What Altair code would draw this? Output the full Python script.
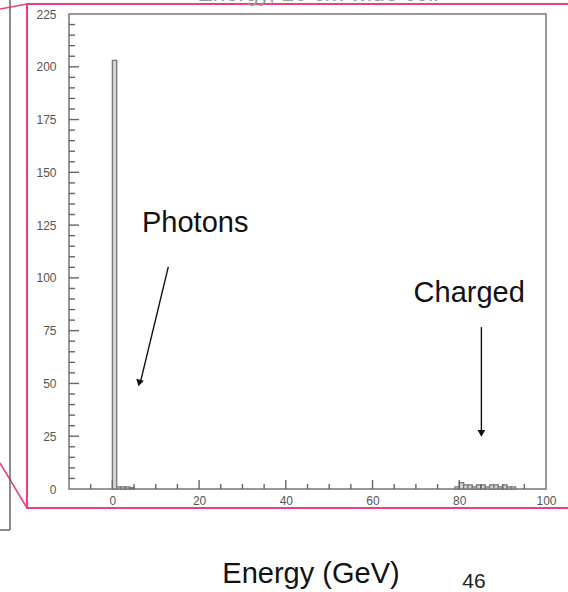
import altair as alt
import pandas as pd

# Histogram bins (GeV) and counts
bin_lo = [0, 1, 2, 3, 4, 79, 80, 81, 82, 83, 84, 85, 86, 87, 88, 89, 90, 91, 92]
bin_hi = [1, 2, 3, 4, 5, 80, 81, 82, 83, 84, 85, 86, 87, 88, 89, 90, 91, 92, 93]
counts = [203, 1, 1, 1, 0.6, 1, 3, 2, 2, 1, 2, 2, 1, 2, 2, 1, 2, 1, 1]

x_labels = [0, 20, 40, 60, 80, 100]
y_labels = [0, 25, 50, 75, 100, 125, 150, 175, 200, 225]
x_major = [0, 20, 40, 60, 80]
x_minor = [v for v in range(-5, 100, 5) if v % 20 != 0]
y_major = [25, 50, 75, 100, 125, 150, 175, 200]
y_minor = [v for v in range(5, 225, 5) if v % 25 != 0]

annot_text = ["Photons", "Charged"]
annot_x = [19.1, 82.3]
annot_y = [121.7, 88.6]

arrow_x = [12.9, 85.1]
arrow_y = [105.2, 76.7]
arrow_x2 = [6.4, 85.1]
arrow_y2 = [50.0, 27.0]
head_x = [6.2, 85.1]
head_y = [50.2, 26.3]
head_angle = [14, 0]

W, H = 477, 475
PL, PT = 69, 14
FONT = "Liberation Sans"

xs = alt.Scale(domain=[-10, 100], nice=False, zero=False)
ys = alt.Scale(domain=[0, 225], nice=False, zero=False)

hist = pd.DataFrame({"lo": bin_lo, "hi": bin_hi, "count": counts, "base": [0] * len(counts)})

bars = alt.Chart(hist).mark_bar(fill="#d4d4d4", stroke="#777", strokeWidth=1.3).encode(
    x=alt.X("lo:Q", scale=xs,
            axis=alt.Axis(values=x_labels, title=None, ticks=False, tickSize=0, domain=False,
                          grid=False, labelPadding=6, labelFont=FONT, labelFontSize=12,
                          labelColor="#555", labelFlush=False)),
    x2="hi:Q",
    y=alt.Y("count:Q", scale=ys,
            axis=alt.Axis(values=y_labels, title=None, ticks=False, tickSize=0, domain=False,
                          grid=False, labelPadding=13, labelFont=FONT, labelFontSize=12,
                          labelColor="#555", labelFlush=False)),
    y2="base:Q",
)

tick_color = "#666"
ytm = alt.Chart(pd.DataFrame({"v": y_major})).mark_rule(color=tick_color, strokeWidth=1.4).encode(
    y=alt.Y("v:Q", scale=ys), x=alt.value(0), x2=alt.value(10))
ytn = alt.Chart(pd.DataFrame({"v": y_minor})).mark_rule(color=tick_color, strokeWidth=1.4).encode(
    y=alt.Y("v:Q", scale=ys), x=alt.value(0), x2=alt.value(6))
xtm = alt.Chart(pd.DataFrame({"v": x_major})).mark_rule(color=tick_color, strokeWidth=1.4).encode(
    x=alt.X("v:Q", scale=xs), y=alt.value(H), y2=alt.value(H - 9))
xtn = alt.Chart(pd.DataFrame({"v": x_minor})).mark_rule(color=tick_color, strokeWidth=1.4).encode(
    x=alt.X("v:Q", scale=xs), y=alt.value(H), y2=alt.value(H - 5))

ann = pd.DataFrame({"t": annot_text, "x": annot_x, "y": annot_y})
ann_text = alt.Chart(ann).mark_text(font=FONT, fontSize=29, color="#111", baseline="alphabetic",
                                    align="center").encode(
    x=alt.X("x:Q", scale=xs), y=alt.Y("y:Q", scale=ys), text="t:N")

arr = pd.DataFrame({"x": arrow_x, "y": arrow_y, "x2": arrow_x2, "y2": arrow_y2})
arrows = alt.Chart(arr).mark_rule(color="#111", strokeWidth=1.4).encode(
    x=alt.X("x:Q", scale=xs), y=alt.Y("y:Q", scale=ys), x2="x2:Q", y2="y2:Q")
heads = alt.Chart(pd.DataFrame({"x": head_x, "y": head_y, "a": head_angle})).mark_point(
    shape="triangle-down", filled=True, color="#111", size=60, opacity=1).encode(
    x=alt.X("x:Q", scale=xs), y=alt.Y("y:Q", scale=ys), angle=alt.Angle("a:Q", scale=None))


def px(v):
    return alt.value(v - PL)


def py(v):
    return alt.value(v - PT)


one = pd.DataFrame({"k": [0]})
pink = "#f23c82"
pink_box = alt.Chart(one).mark_rect(fillOpacity=0, stroke=pink, strokeWidth=2).encode(
    x=px(27), x2=px(580), y=py(4), y2=py(508))
pink_top = alt.Chart(one).mark_rule(color=pink, strokeWidth=1.5).encode(
    x=px(0), y=py(9), x2=px(27), y2=py(4))
pink_bot = alt.Chart(one).mark_rule(color=pink, strokeWidth=1.5).encode(
    x=px(0), y=py(463), x2=px(27), y2=py(508))
gray_v = alt.Chart(one).mark_rule(color="#666", strokeWidth=1.5).encode(
    x=px(10), y=py(0), y2=py(530))
gray_h = alt.Chart(one).mark_rule(color="#666", strokeWidth=1.5).encode(
    x=px(0), x2=px(10), y=py(530))

title_top = alt.Chart(one).mark_text(font=FONT, fontSize=23, color="#999", baseline="alphabetic",
                                     align="center").encode(
    x=px(318), y=py(1), text=alt.value("Energy, 10 cm wide cell"))
xtitle = alt.Chart(one).mark_text(font=FONT, fontSize=29, color="#111", baseline="alphabetic",
                                  align="center").encode(
    x=px(311), y=py(583), text=alt.value("Energy (GeV)"))
page = alt.Chart(one).mark_text(font=FONT, fontSize=21, color="#222", baseline="alphabetic",
                                align="center").encode(
    x=px(474), y=py(588), text=alt.value("46"))

chart = alt.layer(
    pink_box, pink_top, pink_bot, gray_v, gray_h, title_top,
    bars, ytm, ytn, xtm, xtn, arrows, heads, ann_text, xtitle, page,
).properties(
    width=W, height=H,
    padding={"left": PL, "top": PT, "right": 568 - PL - W, "bottom": 592 - PT - H},
    autosize="none",
    background="white",
).configure_view(stroke="#777", strokeWidth=1.5)

chart.save("out.html", embed_options={"renderer": "svg", "actions": False})
